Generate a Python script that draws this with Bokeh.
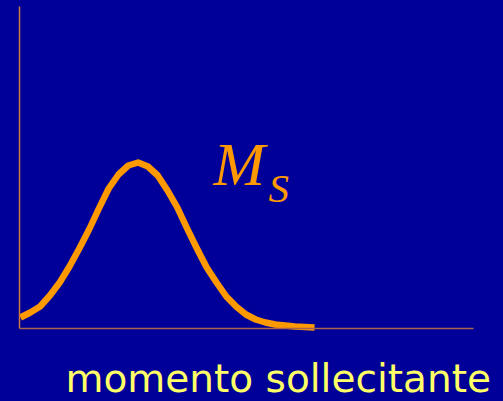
from bokeh.plotting import figure
from bokeh.models import Range1d, Label, FixedTicker
from bokeh.embed import file_html
from bokeh.resources import INLINE

# Bending moment sampled along the beam, half a unit apart
section = [i * 0.5 for i in range(31)]
moment = [11, 16, 22, 33, 46, 62, 80, 99, 120, 140, 154, 163, 166, 162, 153,
          138, 121, 100, 80, 61, 46, 32, 22, 14, 9, 6, 4, 3, 2, 1.5, 1]

bg = "#000099"
orange = "#FF9900"

# the frame fills the canvas to the right and bottom so the caption fits
# inside it; the axes are trimmed with bounds and the x axis sits at zero
p = figure(width=503, height=401, output_backend="svg", toolbar_location=None,
           x_range=Range1d(-0.051, 24.64), y_range=Range1d(-73, 322),
           min_border_left=19, min_border_right=0, min_border_top=6,
           min_border_bottom=0)
p.background_fill_color = bg
p.border_fill_color = bg
p.outline_line_color = None
p.grid.visible = False

for ax in (p.xaxis, p.yaxis):
    ax.ticker = FixedTicker(ticks=[])
    ax.major_tick_line_color = None
    ax.minor_tick_line_color = None
    ax.major_label_standoff = 0
    ax.axis_line_width = 1.5
p.yaxis.axis_line_color = "#cc7a3d"
p.yaxis.bounds = (0, 322)
p.xaxis.axis_line_color = "#a8654d"
p.xaxis.bounds = (-0.051, 23.11)
p.xaxis.fixed_location = 0

p.line(section, moment, line_width=6.5, line_color=orange, line_join="round")

p.add_layout(Label(x=194, y=165, x_units="screen", text="M",
                   text_font="Liberation Serif", text_font_style="italic",
                   text_font_size="62px", text_color=orange,
                   text_baseline="middle"))
p.add_layout(Label(x=249, y=141, x_units="screen", text="S",
                   text_font="Liberation Serif", text_font_style="italic",
                   text_font_size="41px", text_color=orange,
                   text_baseline="middle"))
p.add_layout(Label(x=46, y=-50, x_units="screen",
                   text="momento sollecitante",
                   text_font="DejaVu Sans", text_font_size="39px",
                   text_color="#FFFF66", text_baseline="middle"))

html = file_html(p, INLINE)
html = html.replace("<head>", "<head><style>html, body {margin: 0; background: #000099;}</style>", 1)
open("out.html", "w").write(html)
